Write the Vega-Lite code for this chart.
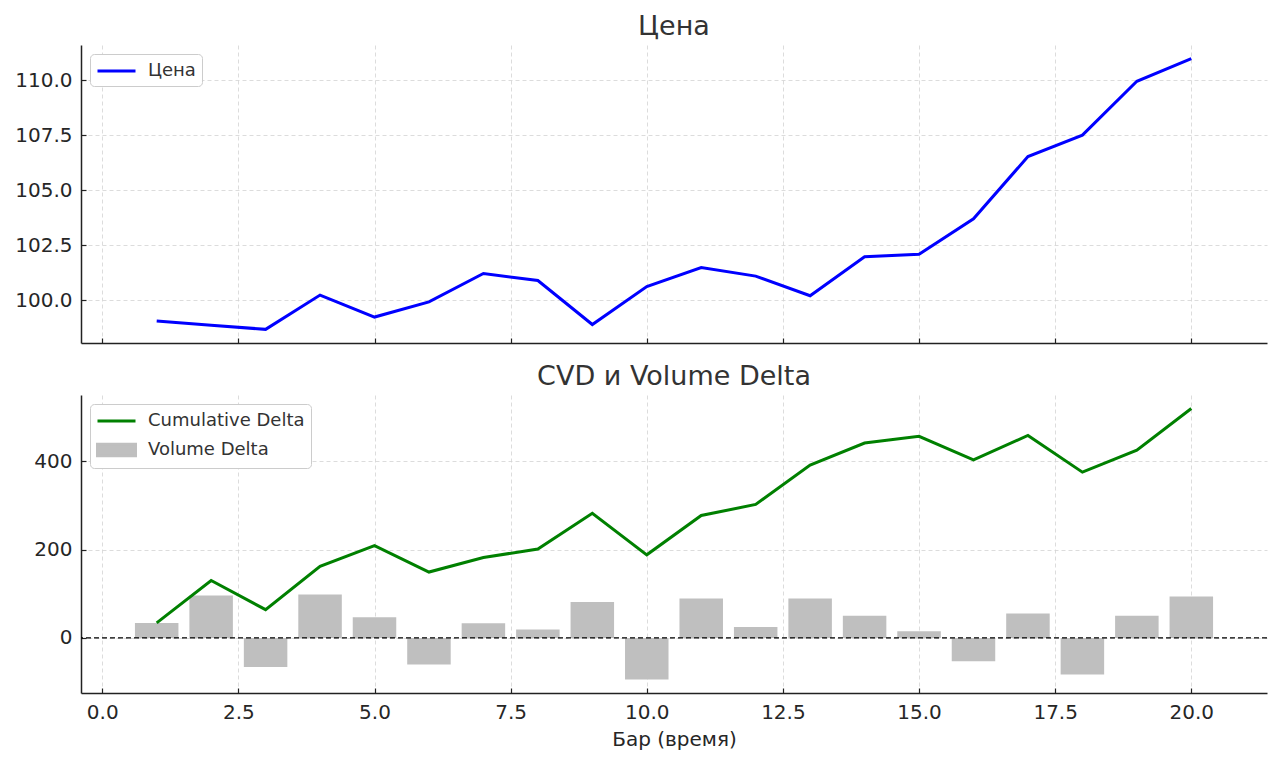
{
  "$schema": "https://vega.github.io/schema/vega-lite/v6.json",
  "padding": {"left": 14, "top": 12, "right": 12, "bottom": 10},
  "background": "white",
  "config": {
    "font": "DejaVu Sans",
    "view": {"stroke": "transparent"},
    "axis": {
      "domainColor": "#222222",
      "domainWidth": 1.5,
      "tickColor": "#222222",
      "tickSize": -5,
      "tickWidth": 1.2,
      "labelFontSize": 20,
      "labelColor": "#262626",
      "labelPadding": 14,
      "gridColor": "#d3d3d3",
      "gridDash": [4, 3],
      "gridWidth": 0.8,
      "titleFontSize": 20,
      "titleFontWeight": "normal",
      "titleColor": "#262626"
    },
    "title": {"fontSize": 27, "fontWeight": "normal", "color": "#333333", "offset": 4},
    "legend": {
      "orient": "top-left",
      "offset": 9,
      "fillColor": "white",
      "strokeColor": "#cccccc",
      "cornerRadius": 4,
      "padding": 6,
      "labelFontSize": 18,
      "labelColor": "#333333",
      "symbolSize": 361,
      "labelOffset": 30,
      "rowPadding": 8
    }
  },
  "datasets": {
    "bars": [
      {"bar": 1, "price": 99.05, "delta": 34, "cvd": 34},
      {"bar": 2, "price": 98.86, "delta": 96, "cvd": 130},
      {"bar": 3, "price": 98.67, "delta": -66, "cvd": 64},
      {"bar": 4, "price": 100.23, "delta": 98, "cvd": 162},
      {"bar": 5, "price": 99.23, "delta": 47, "cvd": 209},
      {"bar": 6, "price": 99.92, "delta": -60, "cvd": 149},
      {"bar": 7, "price": 101.21, "delta": 33, "cvd": 182},
      {"bar": 8, "price": 100.89, "delta": 19, "cvd": 201},
      {"bar": 9, "price": 98.89, "delta": 81, "cvd": 282},
      {"bar": 10, "price": 100.62, "delta": -94, "cvd": 188},
      {"bar": 11, "price": 101.48, "delta": 89, "cvd": 277},
      {"bar": 12, "price": 101.09, "delta": 25, "cvd": 302},
      {"bar": 13, "price": 100.2, "delta": 89, "cvd": 391},
      {"bar": 14, "price": 101.97, "delta": 50, "cvd": 441},
      {"bar": 15, "price": 102.09, "delta": 15, "cvd": 456},
      {"bar": 16, "price": 103.7, "delta": -53, "cvd": 403},
      {"bar": 17, "price": 106.53, "delta": 55, "cvd": 458},
      {"bar": 18, "price": 107.5, "delta": -83, "cvd": 375},
      {"bar": 19, "price": 109.95, "delta": 50, "cvd": 425},
      {"bar": 20, "price": 110.98, "delta": 94, "cvd": 519}
    ]
  },
  "data": {"name": "bars"},
  "spacing": 17,
  "resolve": {"scale": {"color": "independent", "x": "independent", "y": "independent"}, "legend": {"color": "independent"}},
  "vconcat": [
    {
      "title": "Цена",
      "width": 1186,
      "height": 298,
      "mark": {"type": "line", "strokeWidth": 3, "clip": true},
      "encoding": {
        "x": {
          "field": "bar",
          "type": "quantitative",
          "scale": {"domain": [-0.39, 21.39], "nice": false, "zero": false, "padding": 0},
          "axis": {"values": [0, 2.5, 5, 7.5, 10, 12.5, 15, 17.5, 20], "labels": false, "title": null}
        },
        "y": {
          "field": "price",
          "type": "quantitative",
          "scale": {"domain": [98.05, 111.6], "nice": false, "zero": false},
          "axis": {"values": [100, 102.5, 105, 107.5, 110], "format": ".1f", "title": null}
        },
        "color": {
          "datum": "Цена",
          "scale": {"domain": ["Цена"], "range": ["#0000ff"]},
          "legend": {
            "title": null,
            "symbolType": "M-1,0H3",
            "encode": {
              "symbols": {"update": {"fill": {"value": "transparent"}, "stroke": {"value": "#0000ff"}, "strokeWidth": {"value": 3}, "opacity": {"value": 1}}}
            }
          }
        }
      }
    },
    {
      "title": "CVD и Volume Delta",
      "width": 1186,
      "height": 298,
      "layer": [
        {
          "mark": {"type": "bar", "size": 43.5},
          "encoding": {
            "x": {
              "field": "bar",
              "type": "quantitative",
              "scale": {"domain": [-0.39, 21.39], "nice": false, "zero": false, "padding": 0},
              "axis": {"values": [0, 2.5, 5, 7.5, 10, 12.5, 15, 17.5, 20], "format": ".1f", "title": "Бар (время)", "titlePadding": 7}
            },
            "y": {
              "field": "delta",
              "type": "quantitative",
              "scale": {"domain": [-124.6, 549.6], "nice": false},
              "axis": {"values": [0, 200, 400], "format": "d", "title": null}
            },
            "color": {
              "datum": "Volume Delta",
              "scale": {"domain": ["Cumulative Delta", "Volume Delta"], "range": ["#008000", "#bfbfbf"]},
              "legend": {
                "title": null,
                "encode": {
                  "symbols": {
                    "update": {
                      "shape": {"signal": "datum.value == 'Volume Delta' ? 'M-1,-0.6H3V0.6H-1Z' : 'M-1,0H3'"},
                      "fill": {"signal": "datum.value == 'Volume Delta' ? '#bfbfbf' : 'transparent'"},
                      "stroke": {"signal": "datum.value == 'Volume Delta' ? 'transparent' : '#008000'"},
                      "strokeWidth": {"value": 3},
                      "opacity": {"value": 1}
                    }
                  }
                }
              }
            }
          }
        },
        {
          "data": {"values": [{"zero": 0}]},
          "mark": {"type": "rule", "color": "black", "strokeDash": [5, 3], "strokeWidth": 1.3},
          "encoding": {"y": {"field": "zero", "type": "quantitative"}}
        },
        {
          "mark": {"type": "line", "strokeWidth": 3},
          "encoding": {
            "x": {"field": "bar", "type": "quantitative"},
            "y": {"field": "cvd", "type": "quantitative"},
            "color": {"datum": "Cumulative Delta"}
          }
        }
      ]
    }
  ]
}
